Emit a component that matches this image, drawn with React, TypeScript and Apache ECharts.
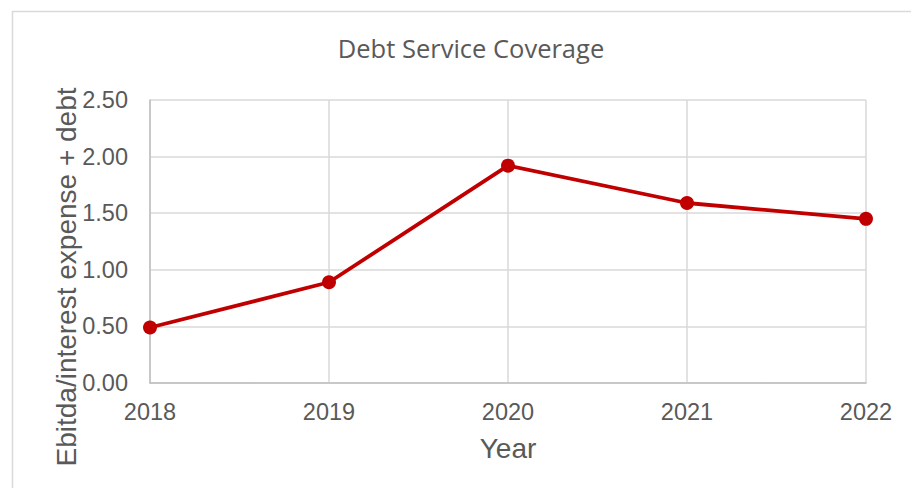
import React, { useEffect, useRef } from "react";
import * as echarts from "echarts";

const categories = ["2018", "2019", "2020", "2021", "2022"];
const coverage = [0.49, 0.89, 1.92, 1.59, 1.45];

export default function App() {
  const ref = useRef<HTMLDivElement>(null);
  useEffect(() => {
    if (!ref.current) return;
    const chart = echarts.init(ref.current, null, { renderer: "svg" });
    chart.setOption({
      animation: false,
      backgroundColor: "#ffffff",
      title: {
        text: "Debt Service Coverage",
        left: 466,
        top: 30,
        textAlign: "center",
        textStyle: { fontFamily: "Open Sans", fontSize: 25.5, fontWeight: "normal", color: "#595959" },
      },
      graphic: [
        {
          type: "rect",
          shape: { x: 12.5, y: 11.5, width: 920, height: 500 },
          style: { fill: "none", stroke: "#d9d9d9", lineWidth: 1.5 },
          silent: true,
        },
        {
          type: "text",
          x: 66,
          y: 277,
          rotation: Math.PI / 2,
          style: {
            text: "Ebitda/interest expense + debt",
            fontFamily: "Liberation Sans, Arial",
            fontSize: 28,
            fill: "#595959",
            align: "center",
            verticalAlign: "middle",
          },
        },
      ],
      grid: { left: 150, right: 45, top: 100, bottom: 105, containLabel: false, show: false },
      xAxis: {
        type: "category",
        data: categories,
        boundaryGap: false,
        name: "Year",
        nameLocation: "middle",
        nameGap: 51,
        nameTextStyle: { fontFamily: "Liberation Sans, Arial", fontSize: 28, color: "#595959" },
        axisLine: { show: true, lineStyle: { color: "#bfbfbf", width: 1.5 } },
        axisTick: { show: false },
        axisLabel: { fontFamily: "Liberation Sans, Arial", fontSize: 23.5, color: "#595959", margin: 17 },
        splitLine: { show: true, lineStyle: { color: "#d9d9d9", width: 1.5 } },
      },
      yAxis: {
        type: "value",
        min: 0,
        max: 2.5,
        interval: 0.5,
        axisLine: { show: true, lineStyle: { color: "#bfbfbf", width: 1.5 } },
        axisTick: { show: false },
        axisLabel: {
          fontFamily: "Liberation Sans, Arial",
          fontSize: 23.5,
          color: "#595959",
          margin: 22,
          formatter: (v: number) => v.toFixed(2),
        },
        splitLine: { show: true, lineStyle: { color: "#d9d9d9", width: 1.5 } },
      },
      series: [
        {
          type: "line",
          data: coverage,
          symbol: "circle",
          symbolSize: 14,
          lineStyle: { color: "#c00000", width: 3.8 },
          itemStyle: { color: "#c00000" },
        },
      ],
    });
    return () => chart.dispose();
  }, []);
  return (
    <div
      ref={ref}
      style={{ position: "fixed", left: 0, top: 0, width: 911, height: 488 }}
    />
  );
}
